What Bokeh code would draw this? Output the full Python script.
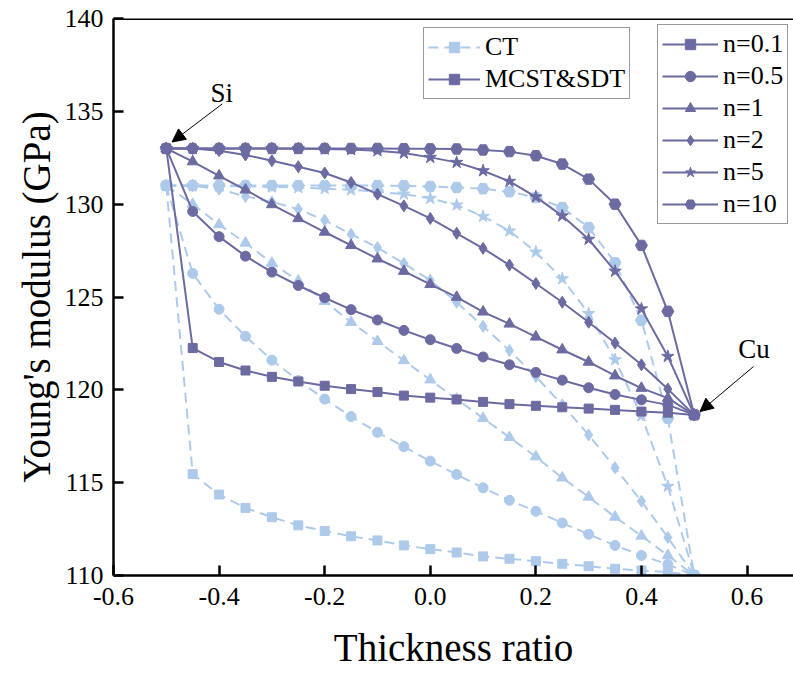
from bokeh.plotting import figure
from bokeh.models import (Legend, LegendItem, Arrow, NormalHead, Span, FixedTicker,
                          NumeralTickFormatter, Range1d)
from bokeh.core.properties import value
from bokeh.embed import file_html
from bokeh.resources import INLINE

# ---------------- data ----------------
thickness = [-0.5, -0.45, -0.4, -0.35, -0.3, -0.25, -0.2, -0.15, -0.1, -0.05, 0.0,
             0.05, 0.1, 0.15, 0.2, 0.25, 0.3, 0.35, 0.4, 0.45, 0.5]

n_labels = ["n=0.1", "n=0.5", "n=1", "n=2", "n=5", "n=10"]
markers = ["square", "circle", "triangle", "diamond", "star", "hex"]

mcst_n01 = [133.0, 122.25, 121.50, 121.04, 120.70, 120.45, 120.22, 120.04, 119.88, 119.69, 119.58,
            119.48, 119.35, 119.23, 119.14, 119.06, 118.99, 118.92, 118.83, 118.77, 118.65]
mcst_n05 = [133.0, 129.61, 128.25, 127.20, 126.34, 125.62, 124.96, 124.32, 123.76, 123.20, 122.70,
            122.23, 121.77, 121.35, 120.94, 120.52, 120.11, 119.75, 119.46, 119.19, 118.65]
mcst_n1 = [133.0, 132.29, 131.53, 130.77, 129.98, 129.23, 128.50, 127.78, 127.06, 126.39, 125.68,
           124.99, 124.20, 123.55, 122.85, 122.16, 121.50, 120.76, 120.09, 119.55, 118.65]
mcst_n2 = [133.0, 133.0, 132.88, 132.65, 132.34, 132.02, 131.68, 131.17, 130.54, 129.91, 129.23,
           128.43, 127.62, 126.72, 125.73, 124.72, 123.64, 122.52, 121.35, 120.04, 118.65]
mcst_n5 = [133.0, 133.0, 133.0, 133.0, 133.0, 132.99, 132.97, 132.94, 132.88, 132.75, 132.52,
           132.25, 131.80, 131.23, 130.39, 129.37, 128.11, 126.39, 124.36, 121.80, 118.65]
mcst_n10 = [133.0, 133.0, 133.0, 133.0, 133.0, 133.0, 133.0, 133.0, 133.0, 132.99, 132.98,
            132.97, 132.92, 132.83, 132.61, 132.16, 131.35, 130.00, 127.78, 124.23, 118.65]

ct_n01 = [131.0, 115.46, 114.36, 113.64, 113.14, 112.70, 112.40, 112.11, 111.89, 111.62, 111.42,
          111.24, 111.03, 110.90, 110.77, 110.63, 110.50, 110.36, 110.27, 110.18, 110.0]
ct_n05 = [131.0, 126.27, 124.34, 122.88, 121.60, 120.50, 119.50, 118.56, 117.71, 116.94, 116.16,
          115.44, 114.72, 114.05, 113.46, 112.83, 112.22, 111.62, 111.08, 110.60, 110.0]
ct_n1 = [131.0, 130.00, 128.90, 127.91, 126.83, 125.86, 124.77, 123.64, 122.61, 121.58, 120.54,
         119.50, 118.47, 117.44, 116.40, 115.26, 114.23, 113.15, 112.13, 111.08, 110.0]
ct_n2 = [131.0, 131.0, 130.81, 130.42, 130.12, 129.73, 129.14, 128.38, 127.66, 126.81, 125.90,
         124.72, 123.42, 122.12, 120.72, 119.19, 117.57, 115.80, 114.00, 112.05, 110.0]
ct_n5 = [131.0, 130.99, 130.98, 130.96, 130.93, 130.89, 130.84, 130.77, 130.67, 130.54, 130.31,
         129.95, 129.34, 128.56, 127.42, 125.98, 124.11, 121.62, 118.60, 114.80, 110.0]
ct_n10 = [131.0, 131.0, 131.0, 131.0, 131.0, 131.0, 131.0, 131.0, 131.0, 130.99, 130.95,
          130.90, 130.83, 130.67, 130.36, 129.82, 128.74, 126.85, 123.75, 118.47, 110.0]

mcst_series = [mcst_n01, mcst_n05, mcst_n1, mcst_n2, mcst_n5, mcst_n10]
ct_series = [ct_n01, ct_n05, ct_n1, ct_n2, ct_n5, ct_n10]

x_ticks = [-0.6, -0.4, -0.2, 0.0, 0.2, 0.4, 0.6]
y_ticks = [110, 115, 120, 125, 130, 135, 140]

# ---------------- style ----------------
DARK = "#6b6ba2"
LIGHT = "#aecaea"
FONT = '"Liberation Serif"'
marker_sizes = {"square": 9, "circle": 10, "triangle": 11, "diamond": 12, "star": 13, "hex": 12}

p = figure(width=793, height=673, x_range=Range1d(-0.6, 0.688), y_range=Range1d(110, 140),
           output_backend="svg", toolbar_location=None,
           min_border_left=113, min_border_right=0, min_border_top=18, min_border_bottom=98)
p.outline_line_color = None
p.xgrid.visible = False
p.ygrid.visible = False
p.background_fill_color = "white"

# CT (dashed, light) first
ct_renderers = []
for ys, mk in zip(ct_series, markers):
    lr = p.line(thickness, ys, line_color=LIGHT, line_width=2, line_dash="10 6")
    sr = p.scatter(thickness, ys, marker=mk, size=marker_sizes[mk], fill_color=LIGHT,
                   line_color=LIGHT)
    ct_renderers.append((lr, sr))

mcst_renderers = []
for ys, mk in zip(mcst_series, markers):
    lr = p.line(thickness, ys, line_color=DARK, line_width=2)
    sr = p.scatter(thickness, ys, marker=mk, size=marker_sizes[mk], fill_color=DARK,
                   line_color=DARK)
    mcst_renderers.append((lr, sr))

# axes
for ax in (p.xaxis[0], p.yaxis[0]):
    ax.axis_line_width = 2.5
    ax.axis_line_color = "black"
    ax.major_tick_line_width = 2.5
    ax.major_tick_line_color = "black"
    ax.major_tick_in = 10
    ax.major_tick_out = 0
    ax.minor_tick_line_color = None
    ax.major_label_text_font = FONT
    ax.major_label_text_font_size = "26px"
    ax.major_label_text_color = "black"
    ax.axis_label_text_font = FONT
    ax.axis_label_text_font_size = "39px"
    ax.axis_label_text_font_style = "normal"
    ax.axis_label_text_color = "black"

p.xaxis[0].ticker = FixedTicker(ticks=x_ticks)
p.xaxis[0].formatter = NumeralTickFormatter(format="0.0")
p.xaxis[0].axis_label = "Thickness ratio"
p.xaxis[0].major_label_standoff = 12
p.xaxis[0].axis_label_standoff = 18

p.yaxis[0].ticker = FixedTicker(ticks=y_ticks)
p.yaxis[0].axis_label = "Young's modulus (GPa)"
p.yaxis[0].major_label_standoff = 10
p.yaxis[0].axis_label_standoff = 4

# top frame line
p.add_layout(Span(location=140, dimension="width", line_color="black", line_width=3))

# legends
leg1 = Legend(items=[LegendItem(label="CT", renderers=list(ct_renderers[0])),
                     LegendItem(label="MCST&SDT", renderers=list(mcst_renderers[0]))],
              location=(310, 476))
leg2 = Legend(items=[LegendItem(label=lab, renderers=list(r))
                     for lab, r in zip(n_labels, mcst_renderers)],
              location=(544, 351))
for lg, gw in ((leg1, 52), (leg2, 56)):
    lg.label_text_font = FONT
    lg.label_text_font_size = "26px"
    lg.label_text_color = "black"
    lg.label_height = 26
    lg.glyph_height = 26
    lg.glyph_width = gw
    lg.spacing = 2
    lg.padding = 4
    lg.margin = 0
    lg.label_standoff = 5
    lg.border_line_color = "#333333"
    lg.border_line_width = 1
    lg.background_fill_color = "white"
    lg.background_fill_alpha = 1
    p.add_layout(lg, "center")

# annotations (Si at left end, Cu at right end)
si_x, si_y = thickness[0], mcst_n01[0]
cu_x, cu_y = thickness[-1], mcst_n01[-1]
p.add_layout(Arrow(end=NormalHead(size=13, fill_color="black", line_color="black"),
                   x_start=si_x + 0.106, y_start=si_y + 2.4, x_end=si_x + 0.011, y_end=si_y + 0.35,
                   line_color="black", line_width=1))
p.add_layout(Arrow(end=NormalHead(size=13, fill_color="black", line_color="black"),
                   x_start=cu_x + 0.112, y_start=cu_y + 2.6, x_end=cu_x + 0.011, y_end=cu_y + 0.18,
                   line_color="black", line_width=1))
p.text(x=[si_x + 0.105, cu_x + 0.113], y=[si_y + 3.0, cu_y + 3.57], text=["Si", "Cu"],
       text_font=value(FONT), text_font_size="27px", text_color="black",
       text_align="center", text_baseline="middle")

open("out.html", "w").write(file_html(p, INLINE))
